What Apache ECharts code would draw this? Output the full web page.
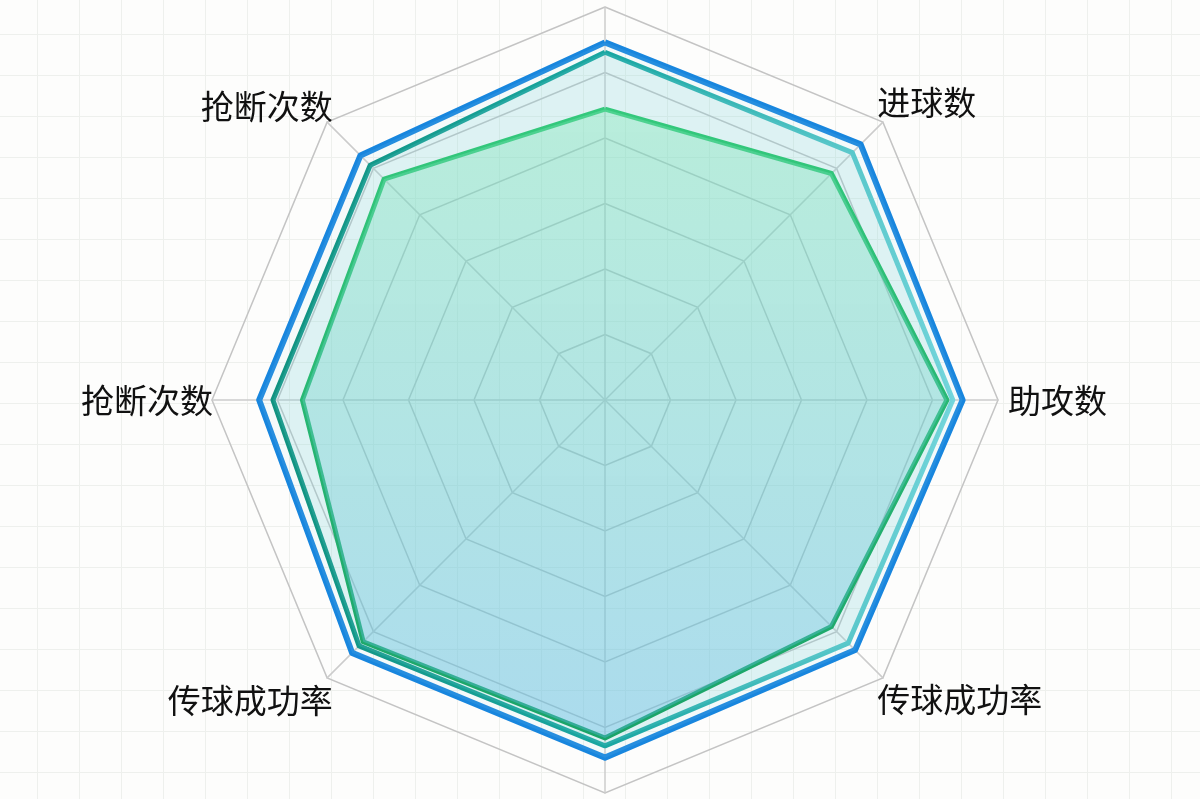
<!DOCTYPE html>
<html>

<head>
    <meta charset="utf-8" />
    <script src="https://cdn.jsdelivr.net/npm/echarts@6/dist/echarts.min.js"></script>
    <style type="text/css">
        html,
        body {
            margin: 0;
            padding: 0;
        }

        body {
            background-color: #fdfdfc;
            background-image: linear-gradient(#eef0ed 1px, transparent 1px),
                linear-gradient(90deg, #eef0ed 1px, transparent 1px);
            background-size: 42px 41px;
            background-position: 37px 34px;
        }
    </style>
</head>

<body>
    <div id="main" style="width: 1200px; height: 799px"></div>
    <script type="text/javascript">
        // 指标（从顶部开始逆时针）
        var indicatorNames = ["", "抢断次数", "抢断次数", "传球成功率", "", "传球成功率", "助攻数", "进球数"];
        var indicatorMax = 100;

        // 三组数据
        var blueValues = [91, 88, 88, 91, 91, 90, 91, 92];
        var tealValues = [88.5, 84.5, 84.5, 88.5, 88, 87.5, 88.5, 89];
        var greenValues = [74, 79.5, 77, 87, 86, 81.5, 87, 81.5];

        // 每个指标名称对应的富文本样式（微调位置）
        var nameStyleKeys = ["t", "tl", "l", "bl", "b", "br", "r", "tr"];
        var nameRich = {
            t: {},
            b: {},
            tl: { padding: [0, 0, 42, 0] },
            tr: { padding: [0, 0, 50, 0] },
            bl: { padding: [57, 0, 0, 0] },
            br: { padding: [55, 0, 0, 0] },
            l: { padding: [0, 7, 0, 0] },
            r: { padding: [0, 0, 0, 18] }
        };
        Object.keys(nameRich).forEach(function (k) {
            nameRich[k].fontSize = 33;
            nameRich[k].color = "#111";
            nameRich[k].fontFamily = "Noto Sans CJK SC";
        });

        var myChart = echarts.init(document.getElementById("main"));

        var nameCounter = 0;
        var option = {
            backgroundColor: "transparent",
            animation: false,
            radar: {
                center: [605, 400],
                radius: 393,
                startAngle: 90,
                splitNumber: 6,
                shape: "polygon",
                nameGap: -8,
                indicator: indicatorNames.map(function (n, i) {
                    return { name: n, max: indicatorMax, styleKey: nameStyleKeys[i] };
                }),
                axisName: {
                    color: "#111",
                    fontSize: 33,
                    fontFamily: "Noto Sans CJK SC",
                    formatter: function (name, indicator) {
                        var key = (indicator && indicator.styleKey) || nameStyleKeys[nameCounter % 8];
                        nameCounter++;
                        if (!name) return "";
                        return "{" + key + "|" + name + "}";
                    },
                    rich: nameRich
                },
                splitLine: {
                    lineStyle: { color: "#c4c4c4", width: 1.5 }
                },
                splitArea: { show: false },
                axisLine: {
                    lineStyle: { color: "#cccccc", width: 1.5 }
                }
            },
            series: [
                {
                    type: "radar",
                    symbol: "none",
                    data: [
                        {
                            value: blueValues,
                            lineStyle: { color: "#1886de", width: 6 },
                            areaStyle: { color: "rgba(175, 228, 232, 0.14)" }
                        }
                    ]
                },
                {
                    type: "radar",
                    symbol: "none",
                    data: [
                        {
                            value: tealValues,
                            lineStyle: {
                                width: 5,
                                color: new echarts.graphic.LinearGradient(0, 0, 1, 0, [
                                    { offset: 0, color: "#10927f" },
                                    { offset: 0.5, color: "#1aa7a2" },
                                    { offset: 1, color: "#74d6dc" }
                                ])
                            },
                            areaStyle: { color: "rgba(110, 205, 210, 0.25)" }
                        }
                    ]
                },
                {
                    type: "radar",
                    symbol: "none",
                    data: [
                        {
                            value: greenValues,
                            lineStyle: {
                                width: 5,
                                color: new echarts.graphic.LinearGradient(0, 0, 0, 1, [
                                    { offset: 0, color: "#34c97c" },
                                    { offset: 1, color: "#1aa368" }
                                ])
                            },
                            areaStyle: {
                                color: new echarts.graphic.LinearGradient(0, 0, 0, 1, [
                                    { offset: 0, color: "rgba(120, 228, 176, 0.52)" },
                                    { offset: 1, color: "rgba(90, 182, 228, 0.55)" }
                                ])
                            }
                        }
                    ]
                }
            ]
        };

        myChart.setOption(option);
    </script>
</body>

</html>
